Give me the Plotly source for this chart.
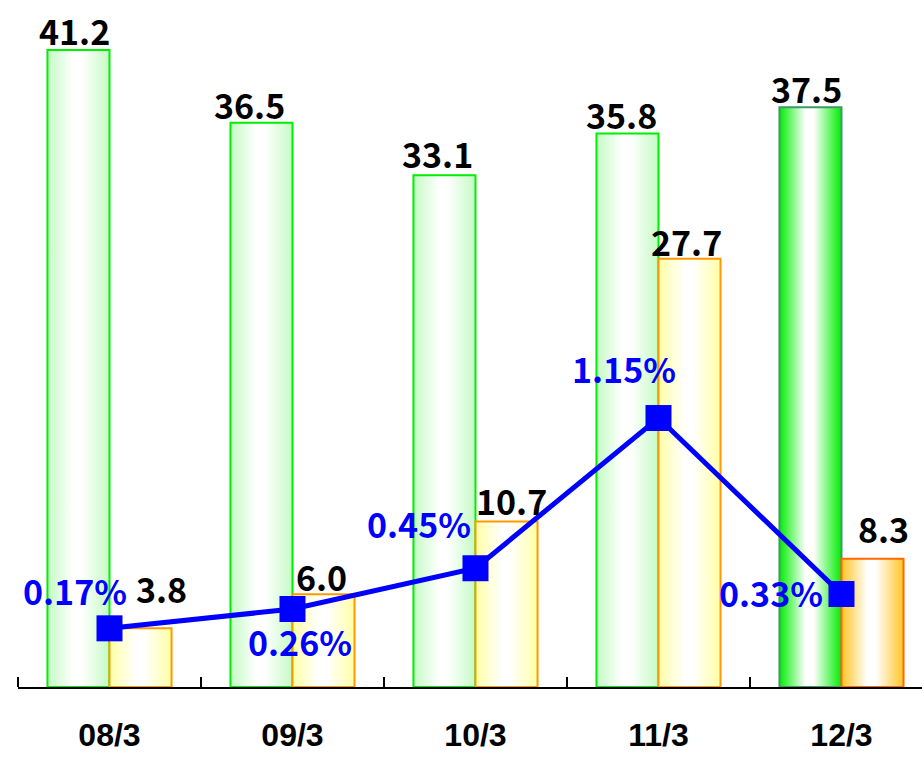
import plotly.graph_objects as go

# --- data -------------------------------------------------------------
categories = ["08/3", "09/3", "10/3", "11/3", "12/3"]
green_vals = [41.2, 36.5, 33.1, 35.8, 37.5]
orange_vals = [3.8, 6.0, 10.7, 27.7, 8.3]
rate_vals = [0.17, 0.26, 0.45, 1.15, 0.33]

# --- styling ----------------------------------------------------------
BAR_W = 0.339
LABEL_FONT = dict(family="Noto Sans CJK JP", size=34, color="black", weight="bold")
RATE_FONT = dict(family="Noto Sans CJK JP", size=34, color="#0000ff", weight="bold")

green_style = [
    dict(edge="#c4fbc4", line="#00ee00"),
    dict(edge="#c4fbc4", line="#00ee00"),
    dict(edge="#c4fbc4", line="#00ee00"),
    dict(edge="#c4fbc4", line="#00ee00"),
    dict(edge="#00ee00", line="#3c9a6a"),
]
orange_style = [
    dict(edge="#ffffa6", line="#ff9900"),
    dict(edge="#ffffa6", line="#ff9900"),
    dict(edge="#ffffa6", line="#ff9900"),
    dict(edge="#ffffa6", line="#ff9900"),
    dict(edge="#ffc426", line="#ff6a00"),
]

# label offsets in pixels (x, y)
green_lbl_shift = [(-4, 20), (-12, 18), (-7, 22), (-6, 19), (-4, 19)]
orange_lbl_shift = [(21, 40), (-2, 18), (5, 21), (-3, 17), (11, 30)]
rate_lbl_shift = [(-35, 38), (8, -32), (-56, 45), (-34, 50), (-70, 2)]

fig = go.Figure()


def add_bar(x0, x1, h, edge, line_color):
    fig.add_trace(go.Scatter(
        x=[x0, x1, x1, x0, x0],
        y=[0, 0, h, h, 0],
        mode="lines",
        fill="toself",
        fillgradient=dict(
            type="horizontal",
            colorscale=[[0, edge], [0.42, "#ffffff"], [0.55, "#ffffff"], [1, edge]],
        ),
        line=dict(color=line_color, width=2),
        hoverinfo="skip",
        showlegend=False,
    ))


for i, (g, o) in enumerate(zip(green_vals, orange_vals)):
    add_bar(i - BAR_W, i, g, green_style[i]["edge"], green_style[i]["line"])
    add_bar(i, i + BAR_W, o, orange_style[i]["edge"], orange_style[i]["line"])

# rate line on the secondary axis
fig.add_trace(go.Scatter(
    x=list(range(len(categories))),
    y=rate_vals,
    yaxis="y2",
    mode="lines+markers",
    line=dict(color="#0000ff", width=5),
    marker=dict(symbol="square", size=26, color="#0000ff"),
    hoverinfo="skip",
    showlegend=False,
))

annotations = []
for i, (g, o) in enumerate(zip(green_vals, orange_vals)):
    dx, dy = green_lbl_shift[i]
    annotations.append(dict(
        x=i - BAR_W / 2, y=g, xref="x", yref="y", text=f"{g:.1f}",
        showarrow=False, font=LABEL_FONT, xshift=dx, yshift=dy,
        xanchor="center", yanchor="middle",
    ))
    dx, dy = orange_lbl_shift[i]
    annotations.append(dict(
        x=i + BAR_W / 2, y=o, xref="x", yref="y", text=f"{o:.1f}",
        showarrow=False, font=LABEL_FONT, xshift=dx, yshift=dy,
        xanchor="center", yanchor="middle",
    ))
for i, r in enumerate(rate_vals):
    dx, dy = rate_lbl_shift[i]
    annotations.append(dict(
        x=i, y=r, xref="x", yref="y2", text=f"{r:.2f}%",
        showarrow=False, font=RATE_FONT, xshift=dx, yshift=dy,
        xanchor="center", yanchor="middle",
    ))

fig.update_layout(
    width=922,
    height=758,
    margin=dict(l=18, r=0, t=0, b=71),
    paper_bgcolor="white",
    plot_bgcolor="white",
    annotations=annotations,
    xaxis=dict(
        range=[-0.5, 4.44],
        automargin=False,
        tickmode="array",
        tickvals=list(range(len(categories))),
        ticktext=categories,
        ticks="",
        ticklabelstandoff=19,
        tickfont=dict(family="Liberation Sans", size=32, color="black", weight="bold"),
        showline=True,
        linecolor="black",
        linewidth=2,
        showgrid=False,
        zeroline=False,
        minor=dict(
            tickmode="array",
            tickvals=[i - 0.5 for i in range(len(categories))],
            ticks="inside",
            ticklen=10,
            tickwidth=2,
            tickcolor="black",
            showgrid=False,
        ),
    ),
    yaxis=dict(
        range=[0, 44.44],
        visible=False,
        automargin=False,
        showgrid=False,
        zeroline=False,
    ),
    yaxis2=dict(
        range=[-0.1034, 3.098],
        overlaying="y",
        side="right",
        visible=False,
        automargin=False,
        showgrid=False,
        zeroline=False,
    ),
)

fig.write_html("out.html")
